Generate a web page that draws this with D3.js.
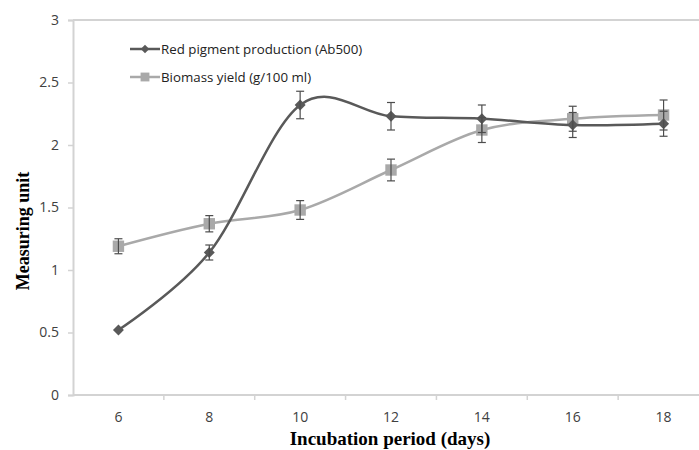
<!DOCTYPE html>
<html>
<head>
<meta charset="utf-8">
<script src="https://cdn.jsdelivr.net/npm/d3@7"></script>
<style>
  body { margin: 0; background: #fff; }
  svg { display: block; }
</style>
</head>
<body>
<div id="chart"></div>
<script>
// data
const days = ['6', '8', '10', '12', '14', '16', '18'];
const pigment = [0.52, 1.14, 2.32, 2.23, 2.21, 2.16, 2.17];
const pigmentErr = [0, 0.06, 0.11, 0.11, 0.11, 0.10, 0.10];
const biomass = [1.19, 1.37, 1.48, 1.80, 2.12, 2.21, 2.24];
const biomassErr = [0.06, 0.065, 0.075, 0.087, 0.10, 0.10, 0.12];
const yTicks = [0, 0.5, 1, 1.5, 2, 2.5, 3];
const seriesNames = ['Red pigment production (Ab500)', 'Biomass yield (g/100 ml)'];

const width = 699, height = 450;
const margin = {top: 20, right: -10, bottom: 55, left: 73};

const svg = d3.select('#chart').append('svg')
    .attr('width', width)
    .attr('height', height);

const x = d3.scaleBand()
    .domain(days)
    .range([margin.left, width - margin.right]);

const y = d3.scaleLinear()
    .domain([0, 3])
    .range([height - margin.bottom, margin.top]);

const axisColor = '#d3d3d3';
const labelFont = '"Open Sans", "Liberation Sans", sans-serif';
const titleFont = '"Liberation Serif", "Times New Roman", serif';

// top border of plot area
svg.append('line')
    .attr('x1', margin.left).attr('x2', width)
    .attr('y1', y(3)).attr('y2', y(3))
    .attr('stroke', axisColor).attr('stroke-width', 2);

// y axis
const yAxis = svg.append('g')
    .attr('transform', `translate(${margin.left},0)`)
    .call(d3.axisLeft(y).tickValues(yTicks).tickSize(5).tickPadding(9).tickFormat(d3.format('')));
yAxis.select('.domain').attr('stroke', axisColor).attr('stroke-width', 2);
yAxis.selectAll('.tick line').attr('stroke', axisColor).attr('stroke-width', 1.5);
yAxis.selectAll('.tick text')
    .attr('fill', '#404040')
    .style('font-family', labelFont)
    .style('font-size', '14px');

// x axis: ticks sit between categories
const xAxisG = svg.append('g')
    .attr('transform', `translate(0,${y(0)})`);
xAxisG.append('line')
    .attr('x1', margin.left).attr('x2', width)
    .attr('stroke', axisColor).attr('stroke-width', 2);
xAxisG.selectAll('.xtick')
    .data(days)
    .enter()
    .append('line')
    .attr('class', 'xtick')
    .attr('x1', d => x(d) + x.bandwidth())
    .attr('x2', d => x(d) + x.bandwidth())
    .attr('y1', 0).attr('y2', 5)
    .attr('stroke', axisColor).attr('stroke-width', 1.5);
xAxisG.selectAll('.xlabel')
    .data(days)
    .enter()
    .append('text')
    .attr('class', 'xlabel')
    .attr('x', d => x(d) + x.bandwidth() / 2)
    .attr('y', 27)
    .attr('text-anchor', 'middle')
    .attr('fill', '#404040')
    .style('font-family', labelFont)
    .style('font-size', '14px')
    .text(d => d);

// axis titles
svg.append('text')
    .attr('x', 390)
    .attr('y', 445)
    .attr('text-anchor', 'middle')
    .style('font-family', titleFont)
    .style('font-weight', 'bold')
    .style('font-size', '19px')
    .text('Incubation period (days)');

svg.append('text')
    .attr('transform', 'translate(29,231) rotate(-90)')
    .attr('text-anchor', 'middle')
    .style('font-family', titleFont)
    .style('font-weight', 'bold')
    .style('font-size', '18px')
    .text('Measuring unit');

const cx = d => x(d) + x.bandwidth() / 2;

const line = d3.line()
    .x((d, i) => cx(days[i]))
    .y(d => y(d))
    .curve(d3.curveCatmullRom.alpha(0));

const series = [
    {name: seriesNames[0], values: pigment, err: pigmentErr, color: '#595959', rotate: 45, size: 60},
    {name: seriesNames[1], values: biomass, err: biomassErr, color: '#a9a9a9', rotate: 0, size: 130}
];

// draw biomass first so pigment line sits on top like the original
series.slice().reverse().forEach(s => {
    svg.append('path')
        .datum(s.values)
        .attr('fill', 'none')
        .attr('stroke', s.color)
        .attr('stroke-width', 2.5)
        .attr('d', line);

    svg.selectAll(null)
        .data(s.values)
        .enter()
        .append('path')
        .attr('transform', (d, i) => `translate(${cx(days[i])},${y(d)}) rotate(${s.rotate})`)
        .attr('d', d3.symbol().type(d3.symbolSquare).size(s.size))
        .attr('fill', s.color);
});

// error bars
series.forEach(s => {
    const g = svg.append('g').attr('stroke', '#4d4d4d').attr('stroke-width', 1.2);
    s.values.forEach((v, i) => {
        const e = s.err[i];
        if (!e) return;
        const xc = cx(days[i]);
        g.append('line').attr('x1', xc).attr('x2', xc).attr('y1', y(v - e)).attr('y2', y(v + e));
        g.append('line').attr('x1', xc - 4).attr('x2', xc + 4).attr('y1', y(v - e)).attr('y2', y(v - e));
        g.append('line').attr('x1', xc - 4).attr('x2', xc + 4).attr('y1', y(v + e)).attr('y2', y(v + e));
    });
});

// legend
const legend = svg.append('g');
series.forEach((s, i) => {
    const ly = 49 + i * 28;
    legend.append('line')
        .attr('x1', 130).attr('x2', 160)
        .attr('y1', ly).attr('y2', ly)
        .attr('stroke', s.color).attr('stroke-width', 2.5);
    legend.append('path')
        .attr('transform', `translate(145,${ly}) rotate(${s.rotate})`)
        .attr('d', d3.symbol().type(d3.symbolSquare).size(s.size * 0.6))
        .attr('fill', s.color);
    legend.append('text')
        .attr('x', 161)
        .attr('y', ly)
        .attr('dy', '0.35em')
        .attr('fill', '#222')
        .style('font-family', labelFont)
        .style('font-size', '13.3px')
        .text(s.name);
});
</script>
</body>
</html>
